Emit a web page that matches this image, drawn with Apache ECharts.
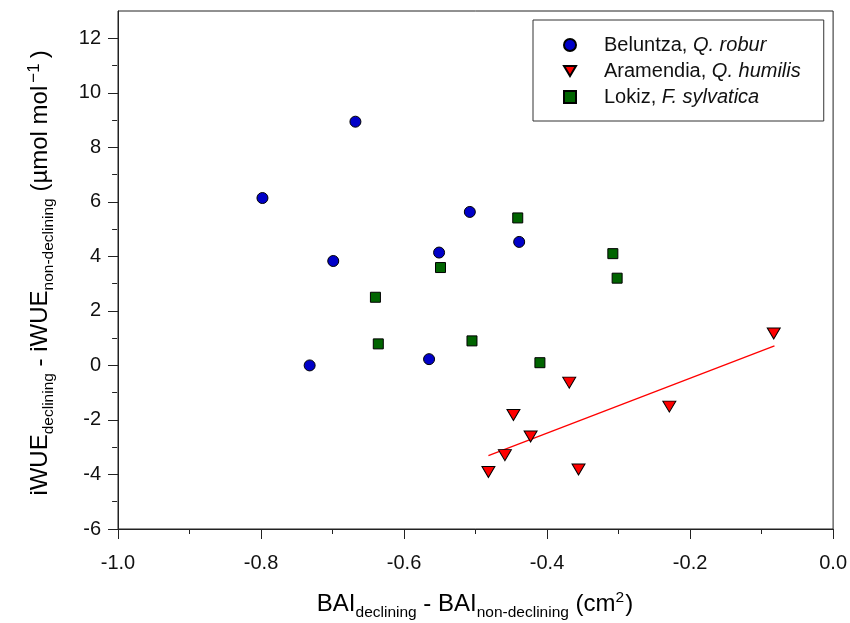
<!DOCTYPE html>
<html>
<head>
<meta charset="utf-8">
<script src="https://cdn.jsdelivr.net/npm/echarts@6/dist/echarts.min.js"></script>
<style>
html,body{margin:0;padding:0;background:#fff;}
#chart{width:850px;height:623px;}
</style>
</head>
<body>
<div id="chart"></div>
<script>
// ---- data ----
const belX = [-0.668, -0.798, -0.508, -0.439, -0.551, -0.699, -0.565, -0.732];
const belY = [8.94, 6.14, 5.63, 4.53, 4.14, 3.83, 0.23, 0.00];

const araX = [-0.083, -0.369, -0.447, -0.229, -0.423, -0.459, -0.482, -0.356];
const araY = [1.17, -0.63, -1.82, -1.51, -2.61, -3.29, -3.91, -3.82];

const lokX = [-0.441, -0.308, -0.302, -0.549, -0.640, -0.636, -0.505, -0.410];
const lokY = [5.41, 4.10, 3.20, 3.59, 2.50, 0.79, 0.90, 0.10];

const fitX = [-0.482, -0.082];
const fitY = [-3.31, 0.72];

const seriesNames = ['Beluntza, Q. robur', 'Aramendia, Q. humilis', 'Lokiz, F. sylvatica'];
const legendPlain = ['Beluntza, ', 'Aramendia, ', 'Lokiz, '];
const legendItalic = ['Q. robur', 'Q. humilis', 'F. sylvatica'];

const xTickValues = [-1.0, -0.8, -0.6, -0.4, -0.2, 0.0];
const yTickValues = [-6, -4, -2, 0, 2, 4, 6, 8, 10, 12];
const yMinorValues = [-5, -3, -1, 1, 3, 5, 7, 9, 11];

// ---- chart ----
const FONT = '"Liberation Sans", Arial, sans-serif';
const zip = (xs, ys) => xs.map((x, i) => [x, ys[i]]);

const chart = echarts.init(document.getElementById('chart'), null, {renderer: 'canvas'});

const axisCol = '#222';
const GRID = {left: 118, right: 16, top: 11, bottom: 94};
const plotW = 850 - GRID.left - GRID.right;

const titleRich = {
  m: {fontSize: 24, fontFamily: FONT, color: '#111', lineHeight: 28, verticalAlign: 'top', padding: [2, 0, 0, 0]},
  s: {fontSize: 15.5, fontFamily: FONT, color: '#111', lineHeight: 17, verticalAlign: 'top', padding: [15, 0, 0, 0]},
  p: {fontSize: 15.5, fontFamily: FONT, color: '#111', lineHeight: 17, verticalAlign: 'top', padding: [0, 1, 0, 0]},
  q: {fontSize: 17, fontFamily: FONT, color: '#111', lineHeight: 18, verticalAlign: 'top', padding: [0, 5, 0, 3]}
};

const triDown = 'path://M0,0 L12,0 L6,10 Z';

const option = {
  backgroundColor: '#fff',
  animation: false,
  grid: Object.assign({show: true, borderColor: axisCol, borderWidth: 1}, GRID),
  legend: {
    orient: 'vertical',
    left: 533, top: 20,
    padding: [15, 23, 14, 30],
    itemGap: 6,
    itemWidth: 12, itemHeight: 12,
    borderColor: '#333', borderWidth: 1,
    data: [
      {name: seriesNames[0], icon: 'circle'},
      {name: seriesNames[1], icon: triDown},
      {name: seriesNames[2], icon: 'rect'}
    ],
    formatter: function (name) {
      const i = seriesNames.indexOf(name);
      return '{a|' + legendPlain[i] + '}{b|' + legendItalic[i] + '}';
    },
    textStyle: {
      rich: {
        a: {fontSize: 20, fontFamily: FONT, color: '#111', lineHeight: 20, padding: [0, 0, 0, 23]},
        b: {fontSize: 20, fontFamily: FONT, color: '#111', lineHeight: 20, fontStyle: 'italic'}
      }
    }
  },
  xAxis: [{
    type: 'value', min: -1, max: 0, interval: 0.2,
    axisLine: {show: true, onZero: false, lineStyle: {color: axisCol, width: 1}},
    axisTick: {show: true, inside: false, length: 10, lineStyle: {color: axisCol}},
    minorTick: {show: true, splitNumber: 2, length: 5, lineStyle: {color: axisCol}},
    splitLine: {show: false},
    minorSplitLine: {show: false},
    axisLabel: {
      margin: 24, fontSize: 20, fontFamily: FONT, color: '#111',
      customValues: xTickValues,
      formatter: v => Number(v).toFixed(1)
    }
  }],
  yAxis: [{
    type: 'value', min: -6, max: 13, position: 'left',
    axisLine: {show: true, onZero: false, lineStyle: {color: axisCol, width: 1}},
    axisTick: {show: true, inside: false, length: 10, lineStyle: {color: axisCol}, customValues: yTickValues},
    splitLine: {show: false},
    axisLabel: {
      margin: 17, fontSize: 20, fontFamily: FONT, color: '#111',
      customValues: yTickValues,
      formatter: v => String(v)
    }
  }, {
    // minor ticks: placed on the right slot, shifted onto the left axis line
    type: 'value', min: -6, max: 13, position: 'right', offset: -plotW,
    axisLine: {show: false, onZero: false},
    axisTick: {show: true, inside: true, length: 5, lineStyle: {color: axisCol}, customValues: yMinorValues},
    splitLine: {show: false},
    axisLabel: {show: false}
  }],
  graphic: [{
    type: 'text',
    x: 475, y: 604,
    style: {
      text: '{m|BAI}{s|declining}{m| - BAI}{s|non-declining}{m| (cm}{p|2}{m|)}',
      align: 'center', verticalAlign: 'middle',
      rich: titleRich
    }
  }, {
    type: 'text',
    x: 40, y: 273,
    rotation: Math.PI / 2,
    style: {
      text: '{m|iWUE}{s|declining}{m| - iWUE}{s|non-declining}{m| (µmol mol}{q|\u22121}{m|)}',
      align: 'center', verticalAlign: 'middle',
      rich: titleRich
    }
  }],
  series: [{
    name: 'fit', type: 'line', data: zip(fitX, fitY),
    showSymbol: false, symbol: 'none', z: 1,
    lineStyle: {color: '#ff0000', width: 1.3},
    silent: true
  }, {
    name: seriesNames[0], type: 'scatter', data: zip(belX, belY),
    symbol: 'circle', symbolSize: 11, z: 3,
    itemStyle: {color: '#0000c8', borderColor: '#000', borderWidth: 1, opacity: 1}
  }, {
    name: seriesNames[1], type: 'scatter', data: zip(araX, araY),
    symbol: 'triangle', symbolRotate: 180, symbolSize: [13, 11], z: 3,
    itemStyle: {color: '#ff0000', borderColor: '#000', borderWidth: 1, opacity: 1}
  }, {
    name: seriesNames[2], type: 'scatter', data: zip(lokX, lokY),
    symbol: 'rect', symbolSize: 10, z: 3,
    itemStyle: {color: '#006400', borderColor: '#000', borderWidth: 1, opacity: 1}
  }]
};

chart.setOption(option);
</script>
</body>
</html>
